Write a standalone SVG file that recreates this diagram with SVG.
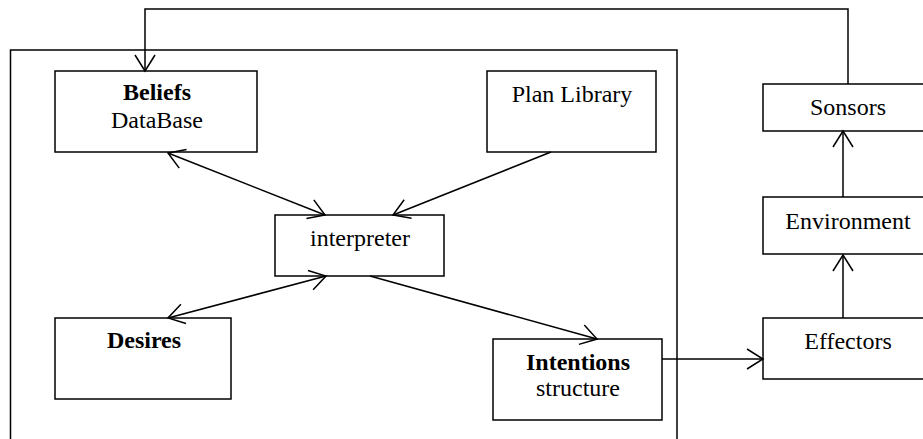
<svg xmlns="http://www.w3.org/2000/svg" width="923" height="439" viewBox="0 0 923 439">
<style>
.box{fill:#fff;stroke:#000;stroke-width:1.5}
.frame{fill:none;stroke:#000;stroke-width:1.5}
text{font-family:'Liberation Serif','DejaVu Serif',serif;font-size:24px;fill:#000;text-anchor:middle}
.b{font-weight:bold}
.c{fill:none;stroke:#000;stroke-width:1.5}
</style>
<defs>
<marker id="ah" markerUnits="userSpaceOnUse" markerWidth="40" markerHeight="40" viewBox="-20 -20 40 40" refX="0" refY="0" orient="auto-start-reverse" overflow="visible">
<path d="M-16,-10 L0,0 L-16,10" fill="none" stroke="#000" stroke-width="1.5"/>
</marker>
</defs>
<rect x="0" y="0" width="923" height="439" fill="#fff"/>
<rect id="agent-frame" class="frame" x="10.5" y="50" width="666.5" height="400"/>
<g id="beliefs"><rect class="box" x="55" y="71" width="202" height="81"/><text class="b" x="157" y="100" font-family="Liberation Serif, serif">Beliefs</text><text x="157" y="128" font-family="Liberation Serif, serif">DataBase</text></g>
<g id="plan-library"><rect class="box" x="487" y="71" width="169" height="81"/><text x="572" y="102" font-family="Liberation Serif, serif">Plan Library</text></g>
<g id="interpreter"><rect class="box" x="275" y="215" width="169" height="61"/><text x="360" y="246" font-family="Liberation Serif, serif">interpreter</text></g>
<g id="desires"><rect class="box" x="55" y="318" width="176" height="81"/><text class="b" x="144" y="348" font-family="Liberation Serif, serif">Desires</text></g>
<g id="intentions"><rect class="box" x="493" y="339" width="169" height="81"/><text class="b" x="578" y="370" font-family="Liberation Serif, serif">Intentions</text><text x="578" y="396" font-family="Liberation Serif, serif">structure</text></g>
<g id="sonsors"><rect class="box" x="763" y="84" width="165" height="47"/><text x="848" y="115" font-family="Liberation Serif, serif">Sonsors</text></g>
<g id="environment"><rect class="box" x="763" y="197" width="165" height="57"/><text x="848" y="229" font-family="Liberation Serif, serif">Environment</text></g>
<g id="effectors"><rect class="box" x="763" y="318" width="165" height="61"/><text x="848" y="349" font-family="Liberation Serif, serif">Effectors</text></g>
<g id="connectors">
<path class="c" d="M848,84 V9 H145 V71" marker-end="url(#ah)"/>
<path class="c" d="M168,153 L325,215" marker-start="url(#ah)" marker-end="url(#ah)"/>
<path class="c" d="M551,152 L393,215" marker-end="url(#ah)"/>
<path class="c" d="M168,318 L326,276" marker-start="url(#ah)" marker-end="url(#ah)"/>
<path class="c" d="M370,276 L597,339" marker-end="url(#ah)"/>
<path class="c" d="M662,359 L763,359" marker-end="url(#ah)"/>
<path class="c" d="M843,318 L843,255" marker-end="url(#ah)"/>
<path class="c" d="M843,197 L843,131" marker-end="url(#ah)"/>
</g>
</svg>
